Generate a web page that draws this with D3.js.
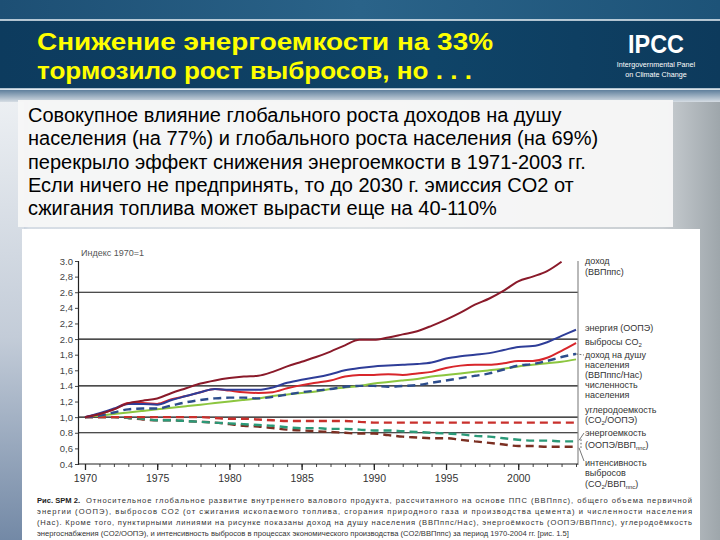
<!DOCTYPE html>
<html>
<head>
<meta charset="utf-8">
<script src="https://cdn.jsdelivr.net/npm/d3@7"></script>
<style>
  body { margin: 0; padding: 0; overflow: hidden; }
  svg { display: block; font-family: "Liberation Sans", Arial, sans-serif; }
</style>
</head>
<body>
<div id="slide"></div>
<script>
// ---- data (index, 1970 = 1) ----
var years = [1970, 1971, 1972, 1973, 1974, 1975, 1976, 1977, 1978, 1979,
             1980, 1981, 1982, 1983, 1984, 1985, 1986, 1987, 1988, 1989,
             1990, 1991, 1992, 1993, 1994, 1995, 1996, 1997, 1998, 1999,
             2000, 2001, 2002, 2003, 2004];

var incomeGdp = [1.00, 1.04, 1.10, 1.18, 1.21, 1.24, 1.31, 1.37, 1.43, 1.47,
                 1.50, 1.52, 1.53, 1.58, 1.65, 1.71, 1.77, 1.84, 1.92, 1.99,
                 1.99, 2.02, 2.06, 2.10, 2.17, 2.25, 2.34, 2.44, 2.52, 2.62,
                 2.74, 2.80, 2.87, 2.99];
var energyTpes = [1.00, 1.05, 1.11, 1.17, 1.17, 1.16, 1.22, 1.27, 1.32, 1.36,
                  1.35, 1.35, 1.35, 1.38, 1.44, 1.48, 1.51, 1.55, 1.60, 1.63,
                  1.65, 1.66, 1.67, 1.68, 1.70, 1.75, 1.78, 1.80, 1.82, 1.86,
                  1.90, 1.91, 1.96, 2.04, 2.12];
var co2Emissions = [1.00, 1.04, 1.10, 1.18, 1.18, 1.17, 1.23, 1.27, 1.32, 1.36,
                    1.34, 1.32, 1.31, 1.32, 1.37, 1.41, 1.44, 1.47, 1.52, 1.54,
                    1.54, 1.55, 1.54, 1.56, 1.58, 1.63, 1.66, 1.67, 1.67, 1.69,
                    1.72, 1.72, 1.76, 1.85, 1.95];
var population = [1.00, 1.02, 1.04, 1.06, 1.08, 1.10, 1.12, 1.14, 1.16, 1.18,
                  1.20, 1.22, 1.24, 1.27, 1.29, 1.31, 1.33, 1.36, 1.38, 1.40,
                  1.43, 1.45, 1.47, 1.49, 1.52, 1.54, 1.56, 1.58, 1.60, 1.62,
                  1.65, 1.67, 1.69, 1.71, 1.74];
var incomePerCapita = [1.00, 1.02, 1.06, 1.10, 1.11, 1.11, 1.15, 1.19, 1.22, 1.24,
                       1.25, 1.25, 1.24, 1.26, 1.29, 1.32, 1.34, 1.36, 1.39, 1.40,
                       1.40, 1.39, 1.40, 1.41, 1.44, 1.47, 1.50, 1.53, 1.56, 1.61,
                       1.66, 1.68, 1.72, 1.77, 1.81];
var carbonIntensity = [1.00, 1.00, 1.00, 1.00, 1.00, 1.00, 1.00, 1.00, 1.00, 0.99,
                       0.98, 0.98, 0.97, 0.96, 0.95, 0.95, 0.95, 0.95, 0.95, 0.94,
                       0.93, 0.93, 0.93, 0.93, 0.93, 0.93, 0.93, 0.93, 0.93, 0.93,
                       0.93, 0.93, 0.93, 0.93, 0.93];
var energyIntensity = [1.00, 1.00, 1.00, 0.99, 0.98, 0.96, 0.96, 0.95, 0.94, 0.93,
                       0.92, 0.91, 0.90, 0.89, 0.87, 0.86, 0.86, 0.85, 0.85, 0.84,
                       0.83, 0.83, 0.82, 0.81, 0.80, 0.79, 0.78, 0.76, 0.75, 0.73,
                       0.71, 0.70, 0.70, 0.69, 0.69];
var emissionIntensity = [1.00, 1.00, 1.00, 0.99, 0.97, 0.96, 0.96, 0.95, 0.94, 0.93,
                         0.91, 0.89, 0.88, 0.86, 0.84, 0.83, 0.82, 0.81, 0.80, 0.79,
                         0.79, 0.77, 0.75, 0.74, 0.73, 0.73, 0.71, 0.69, 0.67, 0.65,
                         0.63, 0.63, 0.62, 0.62, 0.62];

var yTickValues = [3.0, 2.8, 2.6, 2.4, 2.2, 2.0, 1.8, 1.6, 1.4, 1.2, 1.0, 0.8, 0.6, 0.4];
var yTickLabels = ["3.0", "2,8", "2.6", "2,4", "2,2", "2.0", "1,8", "1,6", "1.4", "1,2", "1,0", "0.8", "0,6", "0.4"];
var gridValues = [2.6, 2.0, 1.4, 1.0, 0.8];
var xTickYears = [1970, 1975, 1980, 1985, 1990, 1995, 2000];

var titleLines = ["Снижение энергоемкости на 33%", "тормозило рост выбросов, но . . ."];
var bodyLines = [
    "Совокупное влияние глобального роста доходов на душу",
    "населения (на 77%) и глобального роста населения (на 69%)",
    "перекрыло эффект снижения энергоемкости в 1971-2003 гг.",
    "Если ничего не предпринять, то до 2030 г. эмиссия CO2 от",
    "сжигания топлива может вырасти еще на 40-110%"
];

var W = 720, H = 540;
var svg = d3.select("#slide").append("svg")
    .attr("width", W)
    .attr("height", H);

var defs = svg.append("defs");

// background gradients (approximation of the photo backdrop)
var bg = defs.append("linearGradient").attr("id", "bgGrad")
    .attr("x1", 0).attr("y1", 0).attr("x2", 1).attr("y2", 0);
bg.append("stop").attr("offset", "0%").attr("stop-color", "#8fa3bb");
bg.append("stop").attr("offset", "4%").attr("stop-color", "#d6dde5");
bg.append("stop").attr("offset", "50%").attr("stop-color", "#dfe3e6");
bg.append("stop").attr("offset", "92%").attr("stop-color", "#c9ced2");
bg.append("stop").attr("offset", "100%").attr("stop-color", "#9ea6ab");

var leftGrad = defs.append("linearGradient").attr("id", "leftGrad")
    .attr("x1", 0).attr("y1", 0).attr("x2", 0).attr("y2", 1);
leftGrad.append("stop").attr("offset", "0%").attr("stop-color", "#eef1f4");
leftGrad.append("stop").attr("offset", "55%").attr("stop-color", "#c3ccd8");
leftGrad.append("stop").attr("offset", "100%").attr("stop-color", "#7389a6");

var headGrad = defs.append("linearGradient").attr("id", "headGrad")
    .attr("x1", 0).attr("y1", 0).attr("x2", 1).attr("y2", 0);
headGrad.append("stop").attr("offset", "0%").attr("stop-color", "#0d3b5e");
headGrad.append("stop").attr("offset", "60%").attr("stop-color", "#0f4468");
headGrad.append("stop").attr("offset", "100%").attr("stop-color", "#0d3a5c");

var topGrad = defs.append("linearGradient").attr("id", "topGrad")
    .attr("x1", 0).attr("y1", 0).attr("x2", 1).attr("y2", 0);
topGrad.append("stop").attr("offset", "0%").attr("stop-color", "#1d4f74");
topGrad.append("stop").attr("offset", "50%").attr("stop-color", "#2a6389");
topGrad.append("stop").attr("offset", "100%").attr("stop-color", "#1d5378");

var underGrad = defs.append("linearGradient").attr("id", "underGrad")
    .attr("x1", 0).attr("y1", 0).attr("x2", 0).attr("y2", 1);
underGrad.append("stop").attr("offset", "0%").attr("stop-color", "#5f7f9c");
underGrad.append("stop").attr("offset", "100%").attr("stop-color", "#d6dde4");

svg.append("rect").attr("width", W).attr("height", H).attr("fill", "url(#bgGrad)");
svg.append("rect").attr("x", 0).attr("y", 90).attr("width", 24).attr("height", H - 90)
    .attr("fill", "url(#leftGrad)");
svg.append("rect").attr("x", 0).attr("y", 90).attr("width", W).attr("height", 12)
    .attr("fill", "url(#underGrad)");

// header
svg.append("rect").attr("x", 0).attr("y", 0).attr("width", W).attr("height", 20).attr("fill", "url(#topGrad)");
svg.append("rect").attr("x", 0).attr("y", 20).attr("width", W).attr("height", 69).attr("fill", "url(#headGrad)");
svg.append("line").attr("x1", 0).attr("x2", W).attr("y1", 20).attr("y2", 20)
    .attr("stroke", "#e8f0f6").attr("stroke-width", 1.5);
svg.append("line").attr("x1", 0).attr("x2", W).attr("y1", 89).attr("y2", 89)
    .attr("stroke", "#e8f0f6").attr("stroke-width", 1.5);

svg.selectAll(".title").data(titleLines).enter().append("text")
    .attr("x", 37)
    .attr("y", function (d, i) { return 50 + i * 29; })
    .attr("fill", "#ffff00")
    .attr("font-size", 24)
    .attr("font-weight", "bold")
    .attr("textLength", function (d, i) { return i === 0 ? 456 : 435; })
    .attr("lengthAdjust", "spacingAndGlyphs")
    .text(function (d) { return d; });

// IPCC mark
svg.append("text").attr("x", 656).attr("y", 53).attr("text-anchor", "middle")
    .attr("fill", "#ffffff").attr("font-size", 26).attr("font-weight", "bold")
    .attr("textLength", 56).attr("lengthAdjust", "spacingAndGlyphs")
    .text("IPCC");
svg.append("text").attr("x", 656).attr("y", 67).attr("text-anchor", "middle")
    .attr("fill", "#ffffff").attr("font-size", 7.2)
    .text("Intergovernmental Panel");
svg.append("text").attr("x", 656).attr("y", 77).attr("text-anchor", "middle")
    .attr("fill", "#ffffff").attr("font-size", 7.2)
    .text("on Climate Change");

// text box
svg.append("rect").attr("x", 18).attr("y", 100).attr("width", 655).attr("height", 127)
    .attr("fill", "#f7f7f7").attr("opacity", 0.95);
svg.selectAll(".body").data(bodyLines).enter().append("text")
    .attr("x", 28)
    .attr("y", function (d, i) { return 122 + i * 23.3; })
    .attr("fill", "#000")
    .attr("font-size", 20)
    .text(function (d) { return d; });

// chart panel
svg.append("rect").attr("x", 22).attr("y", 229).attr("width", 678).attr("height", H - 229)
    .attr("fill", "#ffffff");

var x = d3.scaleLinear().domain([1970, 2004]).range([85, 576]);
var y = d3.scaleLinear().domain([0.4, 3.0]).range([464, 261]);
var plotLeft = 78, plotRight = 578;

defs.append("clipPath").attr("id", "plotClip").append("rect")
    .attr("x", plotLeft).attr("y", y(3.0)).attr("width", plotRight - plotLeft).attr("height", y(0.4) - y(3.0));

var chart = svg.append("g");

// grid lines
chart.selectAll(".grid").data(gridValues).enter().append("line")
    .attr("x1", plotLeft).attr("x2", plotRight)
    .attr("y1", function (d) { return y(d); })
    .attr("y2", function (d) { return y(d); })
    .attr("stroke", "#111").attr("stroke-width", 1.2);

// right frame line
chart.append("line").attr("x1", plotRight).attr("x2", plotRight)
    .attr("y1", y(3.0)).attr("y2", y(0.4) + 1)
    .attr("stroke", "#8a8a8a").attr("stroke-width", 1.2);

// y axis
var yAxis = d3.axisLeft(y)
    .tickValues(yTickValues)
    .tickSize(3)
    .tickFormat(function (d, i) { return yTickLabels[i]; });
var yg = chart.append("g").attr("transform", "translate(" + plotLeft + ",0)").call(yAxis);
yg.select(".domain").attr("stroke", "#222").attr("stroke-width", 1.2);
yg.selectAll(".tick line").attr("stroke", "#444");
yg.selectAll(".tick text").attr("font-size", 9.5).attr("fill", "#444")
    .attr("font-family", "Liberation Sans, Arial, sans-serif").attr("x", -5);

// x axis: minor yearly ticks, major 5-year ticks
var xMinor = d3.axisBottom(x).tickValues(years).tickSize(3).tickFormat("");
var xmg = chart.append("g").attr("transform", "translate(0," + y(0.4) + ")").call(xMinor);
xmg.select(".domain").remove();
xmg.selectAll(".tick line").attr("stroke", "#444");

var xAxis = d3.axisBottom(x).tickValues(xTickYears).tickSize(6).tickFormat(d3.format("d"));
var xg = chart.append("g").attr("transform", "translate(0," + y(0.4) + ")").call(xAxis);
xg.select(".domain").attr("d", "M" + plotLeft + ",0H" + plotRight).attr("stroke", "#222").attr("stroke-width", 1.2);
xg.selectAll(".tick line").attr("stroke", "#222").attr("stroke-width", 1.3);
xg.selectAll(".tick text").attr("font-size", 10.5).attr("fill", "#333")
    .attr("font-family", "Liberation Sans, Arial, sans-serif").attr("dy", "0.9em");

chart.append("text").attr("x", 81).attr("y", 256)
    .attr("font-size", 9).attr("fill", "#555")
    .text("Индекс 1970=1");

// series
var seriesList = [
    { values: emissionIntensity, color: "#7b2f22", dash: "8,5" },
    { values: energyIntensity, color: "#2b9a78", dash: "8,5" },
    { values: carbonIntensity, color: "#c9302c", dash: "8,5" },
    { values: population, color: "#8cc63f", dash: null },
    { values: incomePerCapita, color: "#2d4d8c", dash: "8,5" },
    { values: co2Emissions, color: "#d8262b", dash: null },
    { values: energyTpes, color: "#2e3d98", dash: null },
    { values: incomeGdp, color: "#8a1a2a", dash: null }
];

var line = d3.line()
    .x(function (d, i) { return x(years[i]); })
    .y(function (d) { return y(d); })
    .curve(d3.curveMonotoneX);

var lines = chart.append("g").attr("clip-path", "url(#plotClip)");
seriesList.forEach(function (s) {
    lines.append("path")
        .datum(s.values)
        .attr("fill", "none")
        .attr("stroke", s.color)
        .attr("stroke-width", s.dash ? 2.4 : 2)
        .attr("stroke-dasharray", s.dash)
        .attr("d", line);
});

// legend labels on the right
var lab = chart.append("g").attr("font-size", 9).attr("fill", "#333");
function addLabel(yPos, parts) {
    var t = lab.append("text").attr("x", 585).attr("y", yPos);
    parts.forEach(function (p) {
        var ts = t.append("tspan").text(p.t);
        if (p.sub) ts.attr("font-size", 6).attr("dy", 1.5);
        if (p.up) ts.attr("dy", -1.5);
    });
}
addLabel(264, [{ t: "доход" }]);
addLabel(275, [{ t: "(ВВПппс)" }]);
addLabel(331, [{ t: "энергия (ООПЭ)" }]);
addLabel(345, [{ t: "выбросы CO" }, { t: "2", sub: true }]);
addLabel(357.5, [{ t: "доход на душу" }]);
addLabel(367.5, [{ t: "населения" }]);
addLabel(377.5, [{ t: "(ВВПппс/Нас)" }]);
addLabel(387.5, [{ t: "численность" }]);
addLabel(397.5, [{ t: "населения" }]);
addLabel(413, [{ t: "углеродоемкость" }]);
addLabel(423, [{ t: "(CO" }, { t: "2", sub: true }, { t: "/ООПЭ)", up: true }]);
addLabel(436, [{ t: "энергоемкость" }]);
addLabel(448, [{ t: "(ООПЭ/ВВП" }, { t: "ппс", sub: true }, { t: ")", up: true }]);
addLabel(466, [{ t: "интенсивность" }]);
addLabel(476, [{ t: "выбросов" }]);
addLabel(487, [{ t: "(CO" }, { t: "2", sub: true }, { t: "/ВВП", up: true }, { t: "ппс", sub: true }, { t: ")", up: true }]);

// leader lines
var last = years.length - 1;
chart.append("path")
    .attr("d", "M" + x(years[last]) + "," + y(incomePerCapita[last]) + "L584," + 355)
    .attr("stroke", "#555").attr("stroke-width", 0.8).attr("stroke-dasharray", "2,1.5").attr("fill", "none");
chart.append("path")
    .attr("d", "M579," + (y(energyIntensity[last]) - 1) + "L584,433")
    .attr("stroke", "#555").attr("stroke-width", 0.8).attr("fill", "none");
chart.append("path")
    .attr("d", "M579," + (y(emissionIntensity[last]) + 1) + "L584,461")
    .attr("stroke", "#555").attr("stroke-width", 0.8).attr("fill", "none");
chart.append("path")
    .attr("d", "M581," + (y(energyIntensity[last]) - 2) + "L581," + (y(emissionIntensity[last]) + 2))
    .attr("stroke", "#555").attr("stroke-width", 1).attr("stroke-dasharray", "1.5,2").attr("fill", "none");

// caption
var captionLines = [
    "Относительное глобальное развитие внутреннего валового продукта, рассчитанного на основе ППС (ВВПппс), общего объема первичной",
    "энергии (ООПЭ), выбросов CO2 (от сжигания ископаемого топлива, сгорания природного газа и производства цемента) и численности населения",
    "(Нас). Кроме того, пунктирными линиями на рисунке показаны доход на душу населения (ВВПппс/Нас), энергоёмкость (ООПЭ/ВВПппс), углеродоёмкость",
    "энергоснабжения (CO2/ООПЭ), и интенсивность выбросов в процессах экономического производства (CO2/ВВПппс) за период 1970-2004 гг. [рис. 1.5]"
];
var cap = svg.append("g").attr("font-size", 7.6).attr("fill", "#333");
cap.append("text").attr("x", 37).attr("y", 503).attr("font-weight", "bold").attr("fill", "#222")
    .text("Рис. SPM 2.");
captionLines.forEach(function (t, i) {
    var startX = i === 0 ? 86 : 37;
    var el = cap.append("text").attr("x", startX).attr("y", 503 + i * 11).text(t);
    if (i < 3) el.attr("textLength", 692 - startX).attr("lengthAdjust", "spacing");
});
</script>
</body>
</html>
